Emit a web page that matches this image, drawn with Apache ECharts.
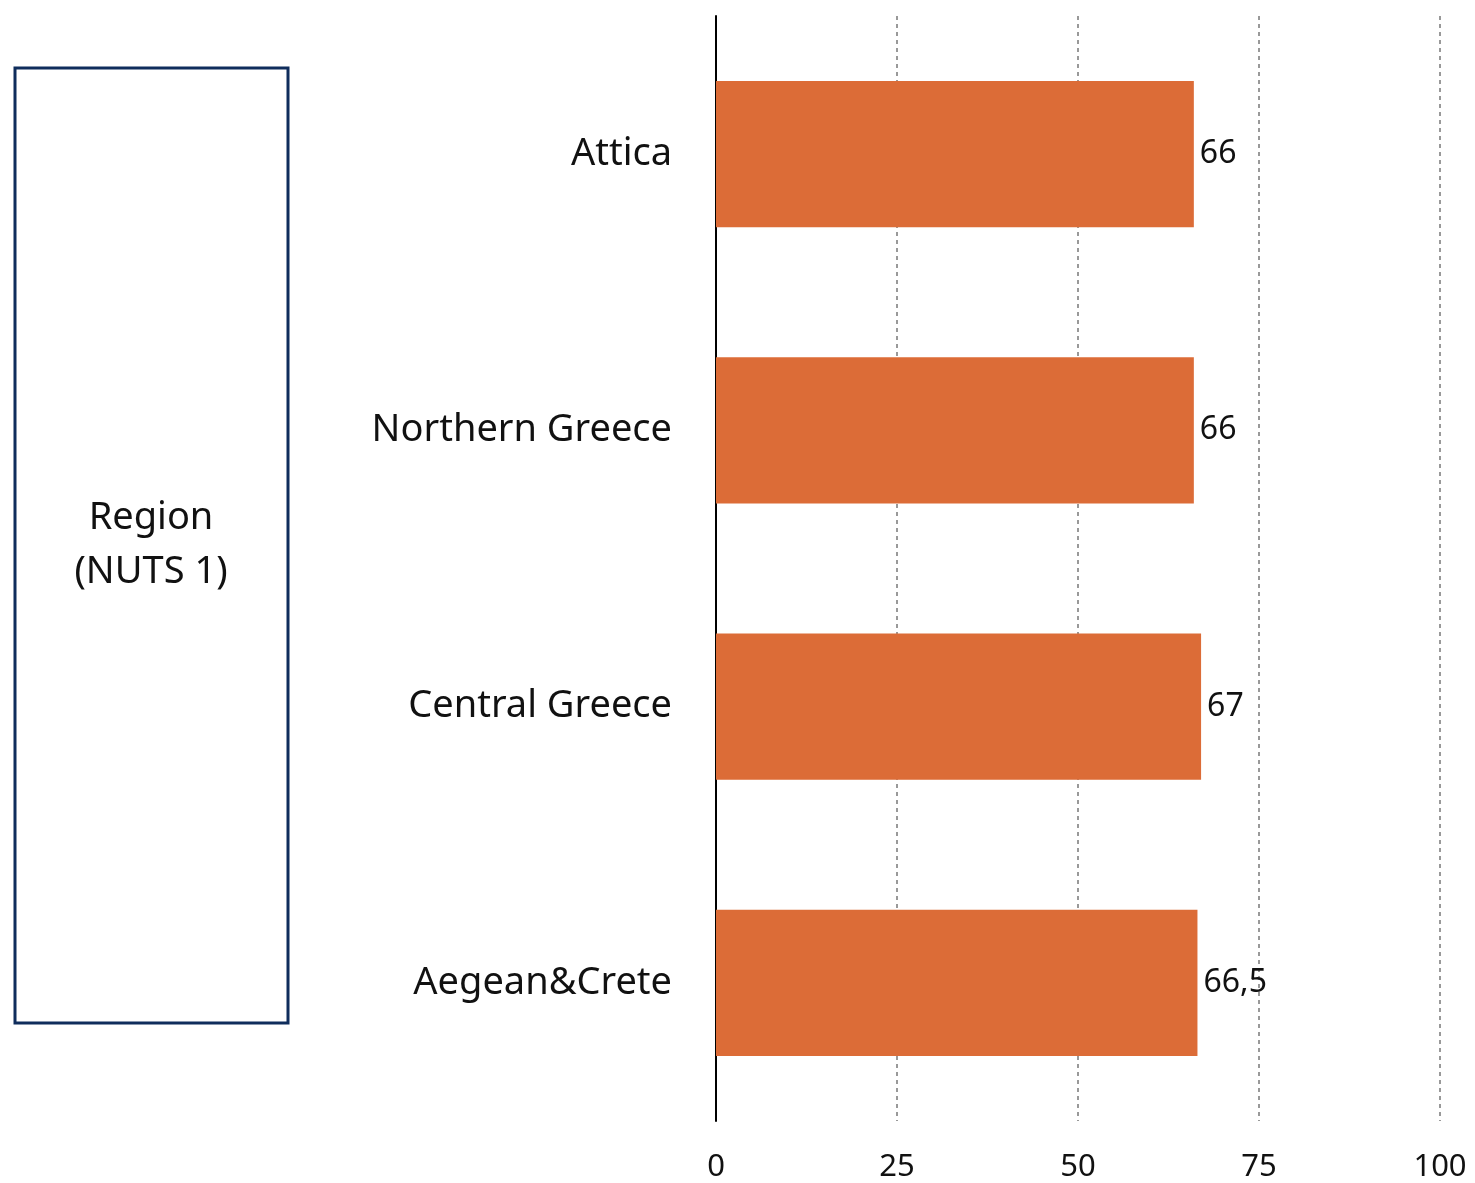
<!DOCTYPE html>
<html>
<head>
<meta charset="utf-8">
<script src="https://cdn.jsdelivr.net/npm/echarts@6/dist/echarts.min.js"></script>
<style>
html,body{margin:0;padding:0;background:#fff;}
#chart{width:1475px;height:1183px;}
</style>
</head>
<body>
<div id="chart"></div>
<script>
var categories = ['Attica', 'Northern Greece', 'Central Greece', 'Aegean&Crete'];
var values = [66, 66, 67, 66.5];
var tickValues = [0, 25, 50, 75, 100];
var boxTitle = 'Region\n(NUTS 1)';

var FONT = '"Noto Sans", Lato, sans-serif';
var chart = echarts.init(document.getElementById('chart'));
chart.setOption({
  backgroundColor: '#ffffff',
  animation: false,
  grid: {left: 716, right: 35, top: 16, bottom: 62, containLabel: false},
  xAxis: {
    type: 'value', min: 0, max: 100, interval: 25,
    axisLine: {show: false},
    axisTick: {show: false},
    axisLabel: {color: '#111', fontSize: 31, fontFamily: FONT, margin: 31,
      formatter: function (v) { return tickValues.indexOf(v) >= 0 ? String(v) : ''; }},
    splitLine: {show: true, lineStyle: {color: '#999', width: 2, type: [4, 4]}}
  },
  yAxis: {
    type: 'category', data: categories, inverse: true,
    axisLine: {show: true, lineStyle: {color: '#000', width: 2}},
    axisTick: {show: false},
    axisLabel: {color: '#111', fontSize: 38, fontFamily: FONT, margin: 44}
  },
  series: [{
    type: 'bar', data: values, barCategoryGap: '47%',
    itemStyle: {color: '#DC6C37'},
    z: 1,
    label: {show: true, position: 'right', distance: 6, color: '#111', fontSize: 32, fontFamily: FONT,
      formatter: function (p) { return String(p.value).replace('.', ','); }}
  }],
  graphic: [
    {type: 'rect', shape: {x: 15, y: 68, width: 273, height: 955},
     style: {fill: '#fff', stroke: '#0F2D5C', lineWidth: 3}},
    {type: 'text', x: 151, y: 545,
     style: {text: boxTitle, font: '38px ' + FONT, fill: '#111', align: 'center', verticalAlign: 'middle', lineHeight: 54}}
  ]
});
</script>
</body>
</html>
